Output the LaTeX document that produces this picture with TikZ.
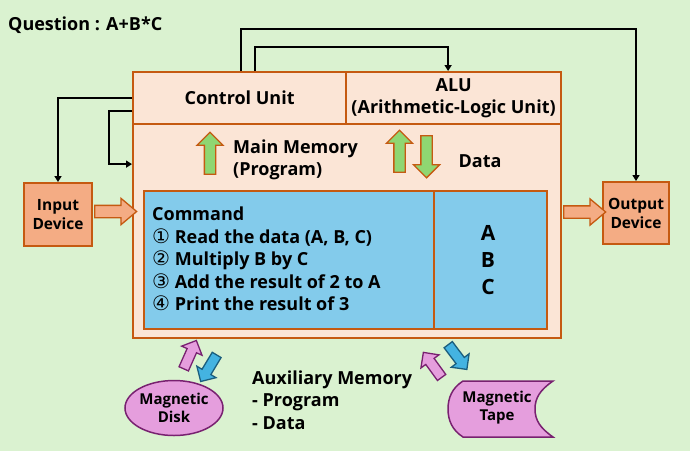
\documentclass[tikz,border=0pt]{standalone}
\usepackage{fontspec}
\setmainfont{Open Sans}
\newfontfamily\symf{DejaVu Sans}
\usetikzlibrary{arrows.meta,shapes.geometric,shapes.arrows}
\definecolor{bg}{HTML}{DAF2D0}
\definecolor{peach}{HTML}{FBE5D6}
\definecolor{brd}{HTML}{C55A11}
\definecolor{memblue}{HTML}{83CBEB}
\definecolor{salmon}{HTML}{F4AC84}
\definecolor{garrow}{HTML}{8FD672}
\definecolor{pinkf}{HTML}{E59EDD}
\definecolor{purp}{HTML}{782170}
\definecolor{barrow}{HTML}{44B3E1}
\definecolor{bbrd}{HTML}{1B5E7E}
\newcommand{\cd}[1]{{\symf\mdseries\fontsize{20}{22.5}\selectfont #1}}
\tikzset{
  box/.style={draw=brd, line width=2.2pt, inner sep=0pt, anchor=north west},
  conn/.style={draw=black, line width=1.6pt, -{Triangle[length=6pt,width=7pt]}},
  blk/.style={single arrow, draw, line width=1.3pt, inner xsep=0pt, single arrow head indent=0pt},
  ioarrow/.style={blk, draw=brd, fill=salmon, inner ysep=5.5pt, single arrow head extend=7pt, minimum height=42pt, single arrow tip angle=80},
  garr/.style={blk, draw=brd, fill=garrow, inner ysep=5pt, single arrow head extend=7.5pt, minimum height=42pt, single arrow tip angle=90},
  parr/.style={blk, draw=purp, fill=pinkf, inner ysep=4.5pt, single arrow head extend=6pt, minimum height=31pt, single arrow tip angle=90},
  barr/.style={blk, draw=bbrd, fill=barrow, inner ysep=4.5pt, single arrow head extend=6pt, minimum height=31pt, single arrow tip angle=90},
  dev/.style={draw=brd, line width=2pt, fill=salmon, inner sep=0pt, align=center, font=\fontsize{15.5}{19}\selectfont\bfseries},
  txt/.style={font=\fontsize{18}{22.5}\selectfont\bfseries, inner sep=0pt},
  small/.style={align=center, inner sep=0pt, font=\fontsize{15}{18}\selectfont\bfseries},
}
\begin{document}
\begin{tikzpicture}[x=1pt,y=-1pt]
\fill[bg] (0,0) rectangle (690,451);
\useasboundingbox (0,0) rectangle (690,451);

\node[txt, anchor=west] (q) at (8,25) {Question : A+B*C};

% main CPU box
\node[box, fill=peach, minimum width=428pt, minimum height=266pt] (cpu) at (132,71) {};
\node[box, fill=peach, minimum width=213pt, minimum height=52pt] (cu) at (132,71) {};
\node[txt] (cut) at (cu.center) {Control Unit};
\node[box, fill=peach, minimum width=215pt, minimum height=52pt] (alu) at (345,71) {};
\node[txt, align=center] (alut) at (alu.center) {ALU\\(Arithmetic-Logic Unit)};

% memory
\node[box, fill=memblue, minimum width=290pt, minimum height=138pt] (cmd) at (143,190) {};
\node[box, fill=memblue, minimum width=113pt, minimum height=138pt] (abc) at (433,190) {};
\node[txt, anchor=west, align=left] (cmdt) at (152,259)
  {Command\\\cd{①} Read the data (A, B, C)\\\cd{②} Multiply B by C\\\cd{③} Add the result of 2 to A\\\cd{④} Print the result of 3};
\node[txt, align=center, font=\fontsize{21}{27}\selectfont\bfseries] (abct) at (488,260) {A\\B\\C};

\node[txt, anchor=west, align=left] (mm) at (233,160) {Main Memory\\(Program)};
\node[txt] (data) at (480,161) {Data};
\node[garr, rotate=90] (g1) at (210,156) {};
\node[garr, rotate=90] (g2) at (399.5,154) {};
\node[garr, rotate=-90] (g3) at (426.5,154) {};

% devices
\node[dev, minimum width=68pt, minimum height=63pt, anchor=north west] (inp) at (23,182) {Input\\Device};
\node[dev, minimum width=66pt, minimum height=62pt, anchor=north west] (outp) at (602,181) {Output\\Device};
\node[ioarrow] (ia) at (112,211.5) {};
\node[ioarrow] (oa) at (581,212) {};

% control lines
\draw[conn] (cu.north) ++(1.5,0) coordinate (c1) -- ++(0,-42) -| (outp.north);
\draw[conn] (cu.north) ++(15.5,0) coordinate (c2) -- ++(0,-24) -| ([xshift=-5.5pt]alu.north);
\draw[conn] (cu.west) -| (inp.north);
\draw[conn] ([yshift=-13pt]cu.west) -- ++(-23,0) |- ([yshift=41pt]cpu.west);

% auxiliary memory
\node[ellipse, draw=purp, line width=1.5pt, fill=pinkf, minimum width=98pt, minimum height=55pt, small] (disk) at (174,408) {Magnetic\\Disk};
\draw[purp, line width=1.5pt, fill=pinkf] (463,381) -- (553,381) .. controls (540,390) and (535,398) .. (535,409) .. controls (535,420) and (540,428) .. (553,437) -- (463,437) .. controls (452,430) and (448,420) .. (448,409) .. controls (448,398) and (452,388) .. (463,381) -- cycle;
\node[small] (tape) at (497,408) {Magnetic\\Tape};
\node[parr, rotate=66] (p1) at (189,357) {};
\node[barr, rotate=-121] (b1) at (210,366) {};
\node[parr, rotate=126] (p2) at (434,367) {};
\node[barr, rotate=-53] (b2) at (456,355) {};
\node[txt, anchor=west, align=left] (aux) at (252,400) {Auxiliary Memory\\- Program\\- Data};
\end{tikzpicture}
\end{document}
